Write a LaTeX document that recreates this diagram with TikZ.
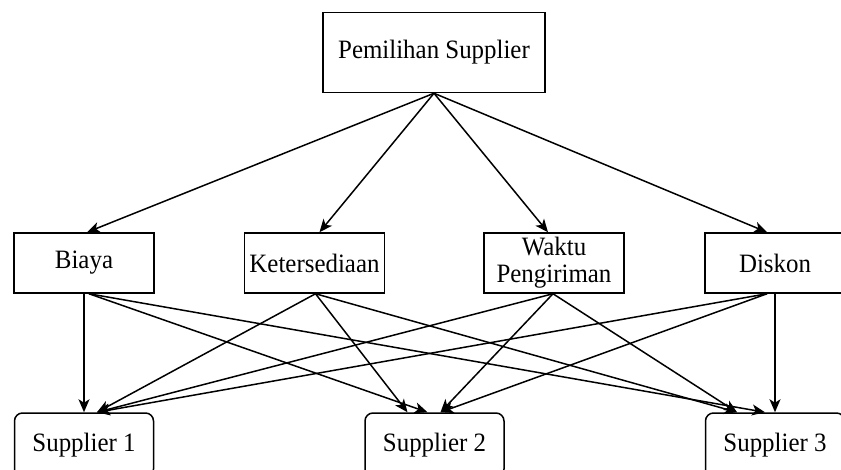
\documentclass[tikz,border=0pt]{standalone}
\usepackage{fontspec}
\setmainfont{Liberation Serif}[FakeStretch=0.94]
\usetikzlibrary{arrows.meta}
\begin{document}
\begin{tikzpicture}[x=1pt,y=-1pt,
  every node/.style={font=\fontsize{26.5}{28}\selectfont, inner sep=0pt, align=center},
  crit/.style={draw, line width=1.5pt, minimum width=140pt, minimum height=60pt},
  goal/.style={draw, line width=1.5pt, minimum width=222pt, minimum height=80pt},
  alt/.style={draw, line width=1.5pt, rounded corners=8pt, minimum width=139pt, minimum height=64pt},
  link/.style={line width=1.5pt, -{Stealth[length=13pt,width=11pt,inset=3.5pt]}}]
  \useasboundingbox (0,0) rectangle (841,469);
  \clip (0,0) rectangle (841,469);
  \fill[white] (0,0) rectangle (841,469);

  % goal
  \node[goal] (goal) at (434,52.5) {Pemilihan Supplier};

  % criteria
  \node[crit] (biaya) at (84,263) {Biaya};
  \node[crit] (ket)   at (314.5,263) {Ketersediaan};
  \node[crit] (waktu) at (554,263) {Waktu\\[-1pt]Pengiriman};
  \node[crit] (disk)  at (775,263) {Diskon};

  % alternatives
  \node[alt] (s1) at (84,445) {Supplier 1};
  \node[alt] (s2) at (434.5,445) {Supplier 2};
  \node[alt] (s3) at (775,445) {Supplier 3};

  % entry points on the criteria
  \coordinate (biayaIn) at ([xshift=3pt]biaya.north);
  \coordinate (ketIn)   at ([xshift=5pt]ket.north);
  \coordinate (waktuIn) at ([xshift=-6pt]waktu.north);
  \coordinate (diskIn)  at ([xshift=-8pt]disk.north);

  % exit points on the criteria
  \coordinate (biayaOut) at ([xshift=5pt]biaya.south);
  \coordinate (ketOut)   at ([xshift=1pt]ket.south);
  \coordinate (waktuOut) at ([xshift=-1pt]waktu.south);
  \coordinate (diskOut)  at ([xshift=-8pt]disk.south);

  % entry points on the alternatives
  \coordinate (s1a) at ([xshift=13pt]s1.north);
  \coordinate (s2a) at ([xshift=-27pt]s2.north);
  \coordinate (s2b) at ([xshift=-7pt]s2.north);
  \coordinate (s2c) at ([xshift=6pt]s2.north);
  \coordinate (s3a) at ([xshift=-38pt]s3.north);
  \coordinate (s3b) at ([xshift=-10pt]s3.north);

  % goal to criteria
  \draw[link] (goal.south) -- (biayaIn);
  \draw[link] (goal.south) -- (ketIn);
  \draw[link] (goal.south) -- (waktuIn);
  \draw[link] (goal.south) -- (diskIn);

  % criteria to alternatives
  \draw[link] (biaya.south) -- (s1.north);
  \draw[link] (biayaOut) -- (s2b);
  \draw[link] (biayaOut) -- (s3b);

  \draw[link] (ketOut) -- (s1a);
  \draw[link] (ketOut) -- (s2a);
  \draw[link] (ketOut) -- (s3a);

  \draw[link] (waktuOut) -- (s1a);
  \draw[link] (waktuOut) -- (s2c);
  \draw[link] (waktuOut) -- (s3a);

  \draw[link] (diskOut) -- (s1a);
  \draw[link] (diskOut) -- (s2c);
  \draw[link] (disk.south) -- (s3.north);
\end{tikzpicture}
\end{document}
